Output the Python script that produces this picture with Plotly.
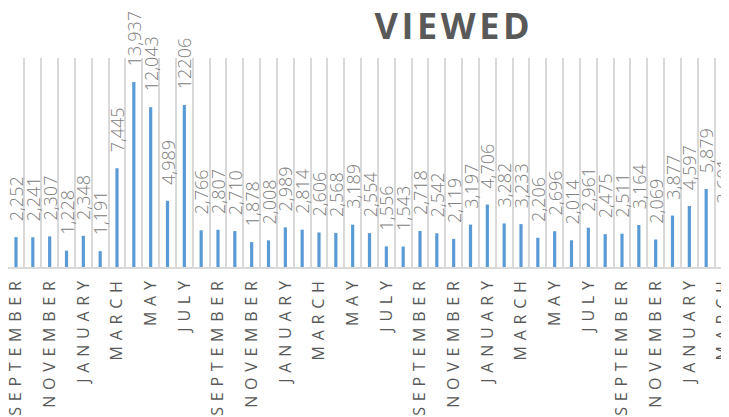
import plotly.graph_objects as go

months = ["SEPTEMBER", "OCTOBER", "NOVEMBER", "DECEMBER", "JANUARY", "FEBRUARY",
          "MARCH", "APRIL", "MAY", "JUNE", "JULY", "AUGUST"]
views = [2252, 2241, 2307, 1228, 2348, 1191, 7445, 13937, 12043, 4989, 12206,
         2766, 2807, 2710, 1878, 2008, 2989, 2814, 2606, 2568, 3189, 2554, 1556,
         1543, 2718, 2542, 2119, 3197, 4706, 3282, 3233, 2206, 2696, 2014, 2961,
         2475, 2511, 3164, 2069, 3877, 4597, 5879, 3601]
labels = [f"{v:,}" for v in views]
labels[10] = "12206"  # shown without separator in the original

n = len(views)
x = list(range(n))
cats = [months[i % 12] for i in range(n)]

def spaced(s, sp):
    return sp.join(list(s))

TICK_SP = "\u00a0\u200a"
tickvals = [i for i in x if i % 2 == 0]
ticktext = [spaced(cats[i], TICK_SP) for i in tickvals]

LABEL_PAD = "\u00a0\u00a0\u00a0\u200a"  # gap between bar end and its value label
bar_text = [LABEL_PAD + t for t in labels]

W, H = 729, 417
OFF = 8  # page body margin shifts the figure by this much

# horizontal scale: first bar centre at screen x=16, last at 723
px_per = (723 - 16) / (n - 1)
x0 = -(16 - OFF) / px_per
x1 = x0 + W / px_per

fig = go.Figure(go.Bar(
    x=x, y=views, width=0.19,
    marker=dict(color="#5B9BD5", line=dict(width=0)),
    text=bar_text, textposition="outside", textangle=-90, constraintext="none",
    cliponaxis=False,
    textfont=dict(family="Open Sans", size=18, color="#808080", weight=300),
    hoverinfo="skip"))

top, base = 58 - OFF, 267 - OFF
fig.update_layout(
    width=W, height=H,
    margin=dict(l=0, r=0, t=top, b=H - base, autoexpand=False),
    paper_bgcolor="white", plot_bgcolor="white",
    showlegend=False,
    uniformtext=dict(mode=False),
    title=dict(text=spaced("VIEWED", "\u200a"), x=(452 - OFF) / W, xanchor="center",
               y=1 - (26 - OFF) / H, yanchor="middle",
               font=dict(family="Open Sans", size=36, color="#595959", weight="bold")),
    xaxis=dict(range=[x0, x1], tickmode="array", tickvals=tickvals, ticktext=ticktext,
               tickangle=-90, showgrid=False, zeroline=False,
               showline=True, linecolor="#d9d9d9", linewidth=1.5,
               ticks="", ticklabelstandoff=6, ticklabeloverflow="allow",
               tickfont=dict(family="Open Sans", size=16, color="#595959"),
               minor=dict(tickmode="array", tickvals=[i - 0.5 for i in range(n + 1)],
                          showgrid=True, gridcolor="#d9d9d9", gridwidth=1.5, ticks="")),
    yaxis=dict(range=[0, 15750], visible=False, showgrid=False, zeroline=False),
)

fig.write_html("out.html")
